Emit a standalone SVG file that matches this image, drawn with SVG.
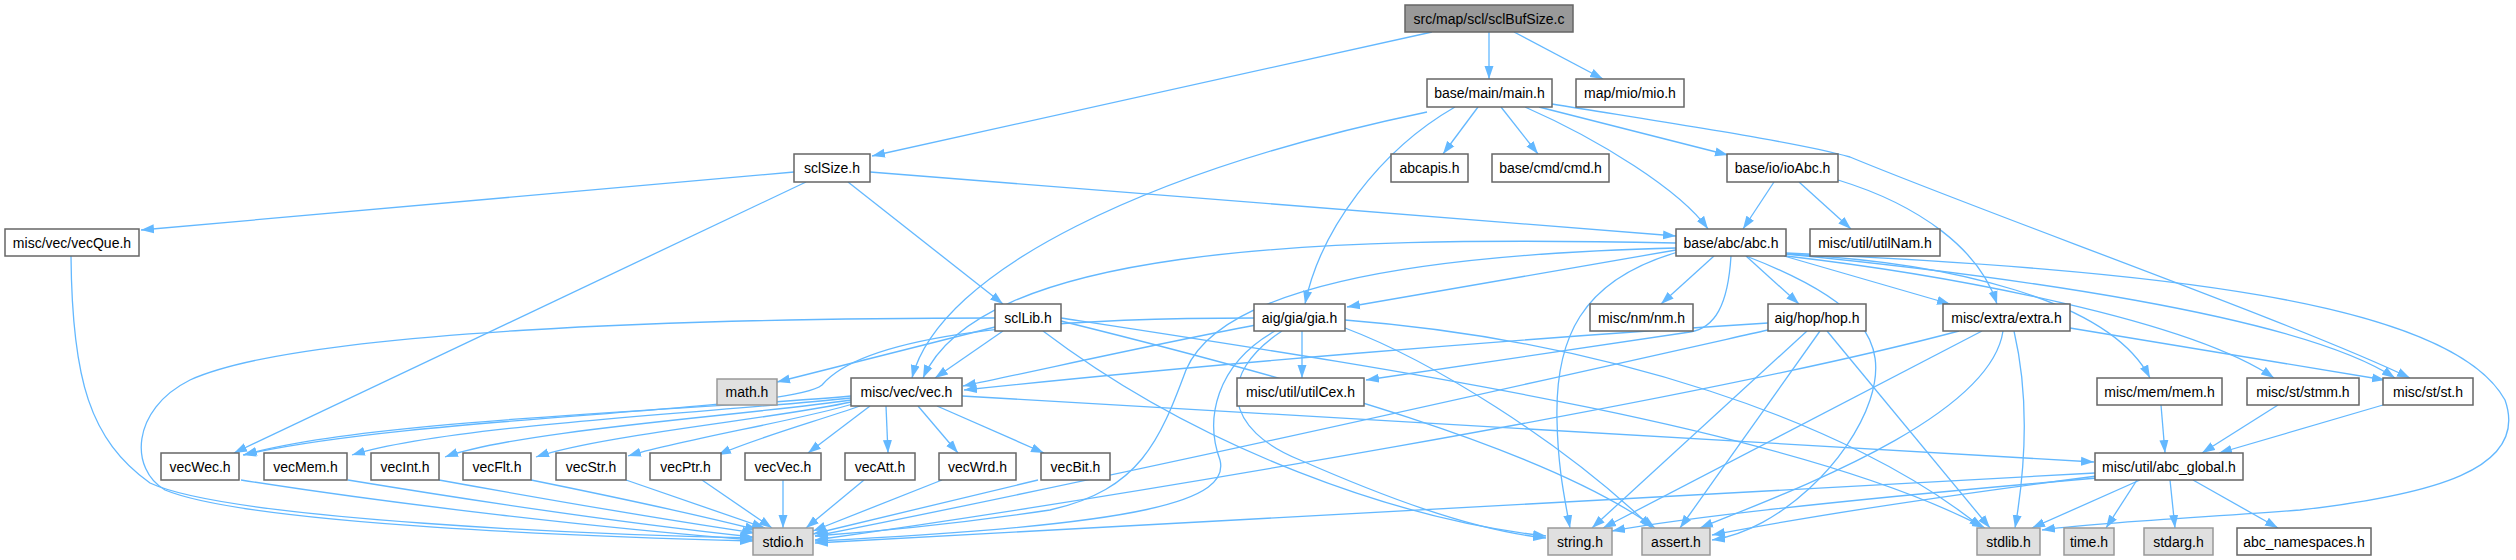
<svg xmlns="http://www.w3.org/2000/svg" width="2516" height="560" viewBox="0 0 2516 560">
<style>
.n rect{fill:#ffffff;stroke:#666666;stroke-width:1.5}
.g rect{fill:#e0e0e0;stroke:#999999;stroke-width:1.5}
.r rect{fill:#999999;stroke:#666666;stroke-width:1.5}
text{font-family:"Liberation Sans",Arial,sans-serif;font-size:14px;fill:#000000;text-anchor:middle}
#edges path{fill:none;stroke:#63b8ff;stroke-width:1.3;marker-end:url(#a)}
</style>
<defs>
<marker id="a" markerWidth="14" markerHeight="10" refX="13" refY="5" orient="auto" markerUnits="userSpaceOnUse"><path d="M0,0.5 L13,5 L0,9.5 z" fill="#63b8ff" stroke="none"/></marker>
</defs>
<rect width="2516" height="560" fill="#ffffff"/>
<g id="edges">
<path d="M1432,32 L872,156"/>
<path d="M1489,32 L1489,79"/>
<path d="M1514,32 L1603,79"/>
<path d="M1478,107 L1443,154"/>
<path d="M1501,107 L1538,154"/>
<path d="M1539,107 L1728,155"/>
<path d="M1552,104 C1700,128 1800,143 1850,157 C1990,215 2300,325 2410,378"/>
<path d="M1525,107 C1600,140 1680,190 1708,229"/>
<path d="M1455,107 C1380,150 1320,230 1305,304"/>
<path d="M1427,112 C1150,170 940,270 912,378"/>
<path d="M794,172 L141,230"/>
<path d="M848,182 L1003,304"/>
<path d="M870,172 L1676,236"/>
<path d="M806,182 L234,453"/>
<path d="M1774,182 L1743,229"/>
<path d="M1799,182 L1851,229"/>
<path d="M1838,180 C1920,205 1980,250 1997,304"/>
<path d="M1714,256 L1661,304"/>
<path d="M1746,256 L1799,304"/>
<path d="M1784,256 L1950,304"/>
<path d="M1786,254 C1950,262 2110,300 2150,378"/>
<path d="M1786,256 C1950,275 2190,320 2274,378"/>
<path d="M1786,254 C2000,275 2300,315 2395,378"/>
<path d="M1786,253 C2150,270 2450,300 2505,400 C2530,470 2430,495 2300,510 C2200,518 2100,522 2042,530"/>
<path d="M1676,250 L1347,307"/>
<path d="M1676,243 C1300,235 980,250 923,378"/>
<path d="M1731,256 C1728,305 1715,328 1690,332 L1366,380"/>
<path d="M1678,252 C1580,280 1555,340 1557,420 C1558,470 1565,500 1570,528"/>
<path d="M1746,256 C1860,300 1890,340 1870,400 C1850,460 1780,530 1712,540"/>
<path d="M1676,248 C1400,255 1220,290 1186,370 C1160,440 1140,490 1050,510 C950,525 870,532 815,536"/>
<path d="M1275,331 C1215,365 1205,420 1220,460 C1230,500 1150,525 815,541"/>
<path d="M1282,331 C1215,375 1225,430 1300,460 C1380,495 1470,530 1546,538"/>
<path d="M1256,325 C1150,345 1050,368 963,386"/>
<path d="M1256,318 C1000,318 860,340 822,385 C790,412 420,415 243,455"/>
<path d="M1302,331 L1302,378"/>
<path d="M1345,328 C1430,360 1560,440 1652,528"/>
<path d="M1345,320 C1600,340 1850,420 1982,528"/>
<path d="M995,327 L777,382"/>
<path d="M1003,331 L935,378"/>
<path d="M995,318 C700,318 300,330 190,380 C130,410 130,470 165,490 C250,525 600,537 753,541"/>
<path d="M1043,331 C1200,450 1400,520 1546,536"/>
<path d="M1061,321 C1300,380 1550,450 1655,528"/>
<path d="M1061,318 C1400,370 1800,430 1985,528"/>
<path d="M71,256 C72,380 90,440 150,483 C230,520 600,535 753,538"/>
<path d="M1768,323 C1500,340 1200,365 964,390"/>
<path d="M1768,330 C1500,390 1100,480 815,536"/>
<path d="M1807,331 L1592,528"/>
<path d="M1820,331 L1680,528"/>
<path d="M1827,331 L1990,528"/>
<path d="M2070,328 L2385,380"/>
<path d="M1959,331 C1700,400 1100,500 815,540"/>
<path d="M1982,331 L1603,528"/>
<path d="M2003,331 C1990,420 1780,495 1700,528"/>
<path d="M2014,331 C2030,400 2025,470 2015,528"/>
<path d="M962,396 L2094,462"/>
<path d="M851,396 C700,410 360,420 244,455"/>
<path d="M851,398 C720,412 450,425 352,455"/>
<path d="M851,400 C750,415 520,430 445,457"/>
<path d="M851,402 C780,418 600,435 536,457"/>
<path d="M853,404 C800,420 680,440 628,456"/>
<path d="M860,406 C820,420 750,440 718,455"/>
<path d="M870,406 L808,453"/>
<path d="M886,406 L888,453"/>
<path d="M918,406 L958,453"/>
<path d="M937,406 L1044,453"/>
<path d="M241,480 C400,505 600,528 753,540"/>
<path d="M348,480 C500,505 650,526 753,537"/>
<path d="M439,480 C550,500 680,522 755,533"/>
<path d="M531,480 C620,498 710,518 758,530"/>
<path d="M626,480 L765,528"/>
<path d="M702,480 L772,528"/>
<path d="M783,480 L783,528"/>
<path d="M864,480 L806,528"/>
<path d="M942,480 L813,531"/>
<path d="M1038,480 L813,534"/>
<path d="M2161,405 L2165,453"/>
<path d="M2278,405 L2202,453"/>
<path d="M2383,405 L2219,453"/>
<path d="M2095,473 L815,543"/>
<path d="M2097,478 C1900,495 1700,515 1612,531"/>
<path d="M2097,476 C1950,495 1800,518 1712,535"/>
<path d="M2140,480 L2032,528"/>
<path d="M2137,480 L2106,528"/>
<path d="M2170,480 L2175,528"/>
<path d="M2193,480 L2278,528"/>
</g>
<g id="n_src" class="r"><rect x="1405" y="5" width="168" height="27"/><text x="1489" y="24">src/map/scl/sclBufSize.c</text></g>
<g id="n_main" class="n"><rect x="1427" y="79" width="125" height="28"/><text x="1489.5" y="98">base/main/main.h</text></g>
<g id="n_mio" class="n"><rect x="1576" y="79" width="108" height="28"/><text x="1630" y="98">map/mio/mio.h</text></g>
<g id="n_sclSize" class="n"><rect x="794" y="154" width="76" height="28"/><text x="832" y="173">sclSize.h</text></g>
<g id="n_abcapis" class="n"><rect x="1391" y="154" width="77" height="28"/><text x="1429.5" y="173">abcapis.h</text></g>
<g id="n_cmd" class="n"><rect x="1492" y="154" width="117" height="28"/><text x="1550.5" y="173">base/cmd/cmd.h</text></g>
<g id="n_ioAbc" class="n"><rect x="1727" y="154" width="111" height="28"/><text x="1782.5" y="173">base/io/ioAbc.h</text></g>
<g id="n_vecQue" class="n"><rect x="5" y="229" width="134" height="27"/><text x="72" y="247.5">misc/vec/vecQue.h</text></g>
<g id="n_abc" class="n"><rect x="1676" y="229" width="110" height="27"/><text x="1731" y="247.5">base/abc/abc.h</text></g>
<g id="n_utilNam" class="n"><rect x="1810" y="229" width="130" height="27"/><text x="1875" y="247.5">misc/util/utilNam.h</text></g>
<g id="n_sclLib" class="n"><rect x="995" y="304" width="66" height="27"/><text x="1028" y="322.5">sclLib.h</text></g>
<g id="n_gia" class="n"><rect x="1254" y="304" width="91" height="27"/><text x="1299.5" y="322.5">aig/gia/gia.h</text></g>
<g id="n_nm" class="n"><rect x="1590" y="304" width="103" height="27"/><text x="1641.5" y="322.5">misc/nm/nm.h</text></g>
<g id="n_hop" class="n"><rect x="1768" y="304" width="98" height="27"/><text x="1817" y="322.5">aig/hop/hop.h</text></g>
<g id="n_extra" class="n"><rect x="1943" y="304" width="127" height="27"/><text x="2006.5" y="322.5">misc/extra/extra.h</text></g>
<g id="n_math" class="g"><rect x="717" y="379" width="60" height="26"/><text x="747" y="397">math.h</text></g>
<g id="n_vec" class="n"><rect x="851" y="378" width="111" height="28"/><text x="906.5" y="397">misc/vec/vec.h</text></g>
<g id="n_utilCex" class="n"><rect x="1237" y="378" width="127" height="28"/><text x="1300.5" y="397">misc/util/utilCex.h</text></g>
<g id="n_mem" class="n"><rect x="2097" y="378" width="125" height="27"/><text x="2159.5" y="396.5">misc/mem/mem.h</text></g>
<g id="n_stmm" class="n"><rect x="2247" y="378" width="112" height="27"/><text x="2303" y="396.5">misc/st/stmm.h</text></g>
<g id="n_st" class="n"><rect x="2383" y="378" width="90" height="27"/><text x="2428" y="396.5">misc/st/st.h</text></g>
<g id="n_vecWec" class="n"><rect x="161" y="453" width="78" height="27"/><text x="200" y="471.5">vecWec.h</text></g>
<g id="n_vecMem" class="n"><rect x="264" y="453" width="83" height="27"/><text x="305.5" y="471.5">vecMem.h</text></g>
<g id="n_vecInt" class="n"><rect x="371" y="453" width="68" height="27"/><text x="405" y="471.5">vecInt.h</text></g>
<g id="n_vecFlt" class="n"><rect x="463" y="453" width="68" height="27"/><text x="497" y="471.5">vecFlt.h</text></g>
<g id="n_vecStr" class="n"><rect x="556" y="453" width="70" height="27"/><text x="591" y="471.5">vecStr.h</text></g>
<g id="n_vecPtr" class="n"><rect x="650" y="453" width="71" height="27"/><text x="685.5" y="471.5">vecPtr.h</text></g>
<g id="n_vecVec" class="n"><rect x="745" y="453" width="76" height="27"/><text x="783" y="471.5">vecVec.h</text></g>
<g id="n_vecAtt" class="n"><rect x="845" y="453" width="70" height="27"/><text x="880" y="471.5">vecAtt.h</text></g>
<g id="n_vecWrd" class="n"><rect x="939" y="453" width="77" height="27"/><text x="977.5" y="471.5">vecWrd.h</text></g>
<g id="n_vecBit" class="n"><rect x="1041" y="453" width="69" height="27"/><text x="1075.5" y="471.5">vecBit.h</text></g>
<g id="n_abc_global" class="n"><rect x="2095" y="453" width="148" height="27"/><text x="2169" y="471.5">misc/util/abc_global.h</text></g>
<g id="n_stdio" class="g"><rect x="753" y="528" width="60" height="27"/><text x="783" y="546.5">stdio.h</text></g>
<g id="n_string" class="g"><rect x="1548" y="528" width="64" height="27"/><text x="1580" y="546.5">string.h</text></g>
<g id="n_assert" class="g"><rect x="1642" y="528" width="68" height="27"/><text x="1676" y="546.5">assert.h</text></g>
<g id="n_stdlib" class="g"><rect x="1977" y="528" width="63" height="27"/><text x="2008.5" y="546.5">stdlib.h</text></g>
<g id="n_time" class="g"><rect x="2064" y="528" width="50" height="27"/><text x="2089" y="546.5">time.h</text></g>
<g id="n_stdarg" class="g"><rect x="2144" y="528" width="69" height="27"/><text x="2178.5" y="546.5">stdarg.h</text></g>
<g id="n_abc_namespaces" class="n"><rect x="2237" y="528" width="134" height="27"/><text x="2304" y="546.5">abc_namespaces.h</text></g>
</svg>
